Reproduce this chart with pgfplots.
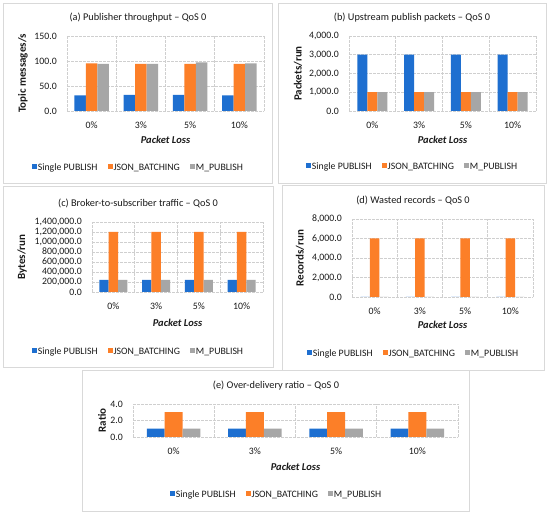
\documentclass[border=0pt]{standalone}
\usepackage{fontspec}
\setmainfont{Carlito}
\usepackage{pgfplots}
\pgfplotsset{compat=1.18}
\definecolor{cblue}{HTML}{1E6FD0}
\definecolor{corange}{HTML}{FC7F28}
\definecolor{cgray}{HTML}{A6A6A6}
\definecolor{gridc}{HTML}{CFCFCF}
\definecolor{axisc}{HTML}{BFBFBF}
\definecolor{boxc}{HTML}{D9D9D9}
\definecolor{txtc}{HTML}{1A1A1A}
\pgfplotsset{
  panel/.style={
    scale only axis, anchor=south west,
    ybar=0pt,
    xmin=-0.5, xmax=3.5, ymin=0,
    xtick={0,1,2,3}, xticklabels={0\%,3\%,5\%,10\%},
    minor xtick={-0.5,0.5,1.5,2.5,3.5},
    xminorgrids=true, ymajorgrids=true, xmajorgrids=false,
    major tick length=0pt, minor tick length=0pt,
    axis line style={draw=none},
    grid style={dash pattern=on 2.5bp off 1.5bp, gridc, line width=0.6bp},
    minor grid style={dash pattern=on 2.5bp off 1.5bp, gridc, line width=0.6bp},
    scaled y ticks=false,
    /pgf/number format/assume math mode=true,
    yticklabel style={/pgf/number format/fixed, /pgf/number format/fixed zerofill,
      /pgf/number format/precision=1, /pgf/number format/1000 sep={,},
      font=\fontsize{9.8bp}{10bp}\selectfont, text=txtc, anchor=east, inner sep=0pt, xshift=-10bp},
    xticklabel style={font=\fontsize{9.8bp}{10bp}\selectfont, text=txtc, anchor=center, inner sep=0pt, yshift=-14bp},
    xlabel={\textbf{\textit{Packet Loss}}},
    xlabel style={font=\fontsize{10.5bp}{11bp}\selectfont, text=txtc, anchor=center, inner sep=0pt},
    ylabel style={font=\fontsize{11bp}{12bp}\selectfont\bfseries, text=txtc, anchor=center, inner sep=0pt},
    legend columns=3,
    legend style={draw=none, fill=none, anchor=center, inner sep=0pt,
      font=\fontsize{9.8bp}{10bp}\selectfont, text=txtc,
      /tikz/every even column/.append style={column sep=9bp},
      nodes={inner sep=1bp}},
  },
  bs/.style={fill=#1, draw=none,
    legend image code/.code={\fill[#1] (0bp,-0.8bp) rectangle (5bp,4.2bp);}},
}
\begin{document}
\begin{tikzpicture}
\useasboundingbox (0,0) rectangle (550bp,514bp);
\fill[white] (0,0) rectangle (550bp,514bp);
% panel boxes
\draw[boxc, line width=0.8bp] (3bp,331bp) rectangle (272bp,511bp);
\draw[boxc, line width=0.8bp] (278bp,331bp) rectangle (546bp,511bp);
\draw[boxc, line width=0.8bp] (3bp,147bp) rectangle (273bp,328bp);
\draw[boxc, line width=0.8bp] (282bp,144bp) rectangle (544bp,329bp);
\draw[boxc, line width=0.8bp] (82bp,3bp) rectangle (469bp,144bp);
% titles
\node[text=txtc, font=\fontsize{10.3bp}{11bp}\selectfont] at (138bp,496bp) {(a) Publisher throughput – QoS 0};
\node[text=txtc, font=\fontsize{10.3bp}{11bp}\selectfont] at (412bp,496bp) {(b) Upstream publish packets – QoS 0};
\node[text=txtc, font=\fontsize{10.3bp}{11bp}\selectfont] at (138bp,311bp) {(c) Broker-to-subscriber traffic – QoS 0};
\node[text=txtc, font=\fontsize{10.3bp}{11bp}\selectfont] at (413bp,314bp) {(d) Wasted records – QoS 0};
\node[text=txtc, font=\fontsize{10.3bp}{11bp}\selectfont] at (276bp,128bp) {(e) Over-delivery ratio – QoS 0};

% (a)
\begin{axis}[panel, at={(67bp,403bp)}, width=197bp, height=75bp,
  bar width=0.235, ymax=150, ytick={0,50,100,150},
  ylabel={Topic messages/s},
  ylabel style={at={(axis description cs:-0.223,0.5)}},
  xlabel style={at={(axis description cs:0.5,0)}, yshift=-29bp},
  legend style={at={(axis description cs:0.360,-0.76)}}]
\addplot[bs=cblue] coordinates {(0,31) (1,32) (2,32) (3,31)};
\addplot[bs=corange] coordinates {(0,95) (1,94) (2,94) (3,94)};
\addplot[bs=cgray] coordinates {(0,94) (1,94) (2,97) (3,95)};
\legend{Single PUBLISH, JSON\_BATCHING, M\_PUBLISH}
\draw[axisc, line width=0.8bp] (axis cs:-0.5,0) -- (axis cs:3.5,0);
\end{axis}

% (b)
\begin{axis}[panel, at={(349bp,403bp)}, width=187bp, height=75bp,
  bar width=0.214, ymax=4000, ytick={0,1000,2000,3000,4000},
  ylabel={Packets/run},
  ylabel style={at={(axis description cs:-0.273,0.5)}},
  xlabel style={at={(axis description cs:0.5,0)}, yshift=-29bp},
  legend style={at={(axis description cs:0.337,-0.747)}}]
\addplot[bs=cblue] coordinates {(0,3000) (1,3000) (2,3000) (3,3000)};
\addplot[bs=corange] coordinates {(0,1000) (1,1000) (2,1000) (3,1000)};
\addplot[bs=cgray] coordinates {(0,1000) (1,1000) (2,1000) (3,1000)};
\legend{Single PUBLISH, JSON\_BATCHING, M\_PUBLISH}
\draw[axisc, line width=0.8bp] (axis cs:-0.5,0) -- (axis cs:3.5,0);
\end{axis}

% (c)
\begin{axis}[panel, at={(92bp,222bp)}, width=171bp, height=70bp,
  bar width=0.22, ymax=1400000, ytick={0,200000,400000,600000,800000,1000000,1200000,1400000},
  ylabel={Bytes/run},
  ylabel style={at={(axis description cs:-0.409,0.5)}},
  xlabel style={at={(axis description cs:0.5,0)}, yshift=-31bp},
  legend style={at={(axis description cs:0.269,-0.857)}}]
\addplot[bs=cblue] coordinates {(0,240000) (1,240000) (2,240000) (3,240000)};
\addplot[bs=corange] coordinates {(0,1200000) (1,1200000) (2,1200000) (3,1200000)};
\addplot[bs=cgray] coordinates {(0,240000) (1,240000) (2,240000) (3,240000)};
\legend{Single PUBLISH, JSON\_BATCHING, M\_PUBLISH}
\draw[axisc, line width=0.8bp] (axis cs:-0.5,0) -- (axis cs:3.5,0);
\end{axis}

% (d)
\begin{axis}[panel, at={(352bp,217bp)}, width=181bp, height=78bp,
  bar width=0.206, ymax=8000, ytick={0,2000,4000,6000,8000},
  ylabel={Records/run},
  ylabel style={at={(axis description cs:-0.287,0.5)}},
  xlabel style={at={(axis description cs:0.5,0)}, yshift=-28bp},
  legend style={at={(axis description cs:0.337,-0.731)}}]
\addplot[bs=cblue] coordinates {(0,0) (1,0) (2,0) (3,0)};
\addplot[bs=corange] coordinates {(0,6000) (1,6000) (2,6000) (3,6000)};
\addplot[bs=cgray] coordinates {(0,0) (1,0) (2,0) (3,0)};
\legend{Single PUBLISH, JSON\_BATCHING, M\_PUBLISH}
\draw[axisc, line width=0.8bp] (axis cs:-0.5,0) -- (axis cs:3.5,0);
\end{axis}

% (e)
\begin{axis}[panel, at={(133bp,77bp)}, width=325bp, height=33bp,
  bar width=0.22, ymax=4, ytick={0,2,4},
  ylabel={Ratio},
  ylabel style={at={(axis description cs:-0.095,0.5)}},
  xlabel style={at={(axis description cs:0.5,0)}, yshift=-30bp},
  legend style={at={(axis description cs:0.44,-1.758)}}]
\addplot[bs=cblue] coordinates {(0,1) (1,1) (2,1) (3,1)};
\addplot[bs=corange] coordinates {(0,3) (1,3) (2,3) (3,3)};
\addplot[bs=cgray] coordinates {(0,1) (1,1) (2,1) (3,1)};
\legend{Single PUBLISH, JSON\_BATCHING, M\_PUBLISH}
\draw[axisc, line width=0.8bp] (axis cs:-0.5,0) -- (axis cs:3.5,0);
\end{axis}
\end{tikzpicture}
\end{document}
